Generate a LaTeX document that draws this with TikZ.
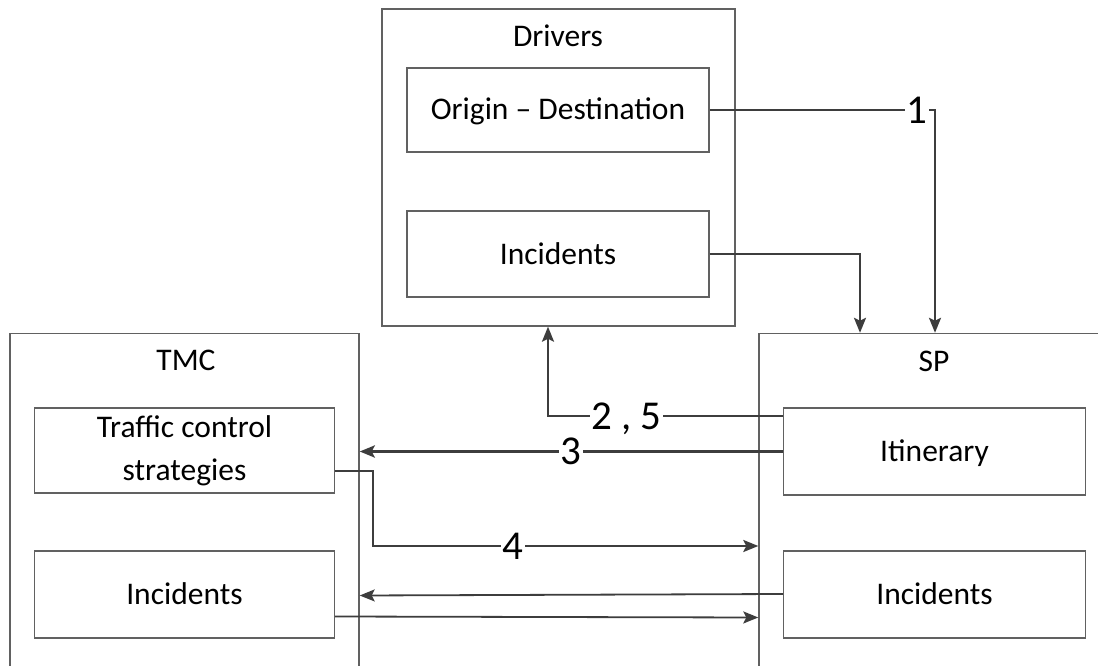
\documentclass[tikz,border=0pt]{standalone}
\usepackage{fontspec}
\setmainfont{Carlito}
\usetikzlibrary{arrows.meta}
\begin{document}
\begin{tikzpicture}[x=1pt,y=-1pt,
  box/.style={draw=black!62,line width=1.4pt,inner sep=0pt},
  txt/.style={font=\fontsize{31.5}{43}\selectfont,align=center,text=black},
  oneline/.style={text height=20pt,text depth=0pt},
  conn/.style={draw=black!76,line width=2.4pt,-{Stealth[length=15pt,width=12pt,inset=3pt]}},
  thinconn/.style={conn,line width=1.8pt},
  thickconn/.style={conn,line width=3.4pt},
  num/.style={fill=white,inner sep=1.5pt,text depth=0pt,text=black,font=\fontsize{41}{49}\selectfont}]
\useasboundingbox (0,0) rectangle (1098,666);
\fill[white] (0,0) rectangle (1098,666);
% outer groups
\node[box,minimum width=353pt,minimum height=317pt] (drivers) at (558.5,167.5) {};
\node[box,minimum width=349pt,minimum height=340pt] (tmc) at (184.5,503.5) {};
\node[box,minimum width=345pt,minimum height=340pt] (sp) at (931.5,503.5) {};
% titles
\node[txt] (driversT) at (558,36) {Drivers};
\node[txt] (tmcT) at (186,360) {TMC};
\node[txt] (spT) at (934,361) {SP};
% inner boxes
\node[box,txt,oneline,minimum width=302pt,minimum height=84pt] (od) at (558,110) {Origin – Destination};
\node[box,txt,oneline,minimum width=302pt,minimum height=86pt] (dinc) at (558,254) {Incidents};
\node[box,txt,minimum width=300pt,minimum height=85pt] (tcs) at (184.5,450.5) {Traffic control\\strategies};
\node[box,txt,oneline,minimum width=300pt,minimum height=87pt] (tinc) at (184.5,594.5) {Incidents};
\node[box,txt,oneline,minimum width=302pt,minimum height=87pt] (itin) at (934.5,451.5) {Itinerary};
\node[box,txt,oneline,minimum width=302pt,minimum height=87pt] (sinc) at (934.5,594.5) {Incidents};
% connectors
\draw[conn] (od.east) -| node[num,pos=0.46]{1} ([xshift=3.5pt]sp.north);
\draw[conn] (dinc.east) -| ([xshift=-71.5pt]sp.north);
\draw[conn] ([yshift=35.5pt]itin.west) -| node[num,pos=0.333]{2 , 5} ([xshift=-10.5pt]drivers.south);
\draw[thickconn] (itin.west) -- node[num,pos=0.5]{3} (itin.west -| tmc.east);
\draw[conn] ([yshift=-20.5pt]tcs.east) -- ++(38,0) |- node[num,pos=0.682]{4} ([yshift=-42.5pt]sp.west);
\draw[thinconn] ([yshift=0.5pt]sinc.west) -- ([yshift=-1pt]tmc.east |- sinc.west);
\draw[thinconn] ([yshift=-22pt]tinc.east) -- ([yshift=-23pt]sp.west |- tinc.east);
\end{tikzpicture}
\end{document}
